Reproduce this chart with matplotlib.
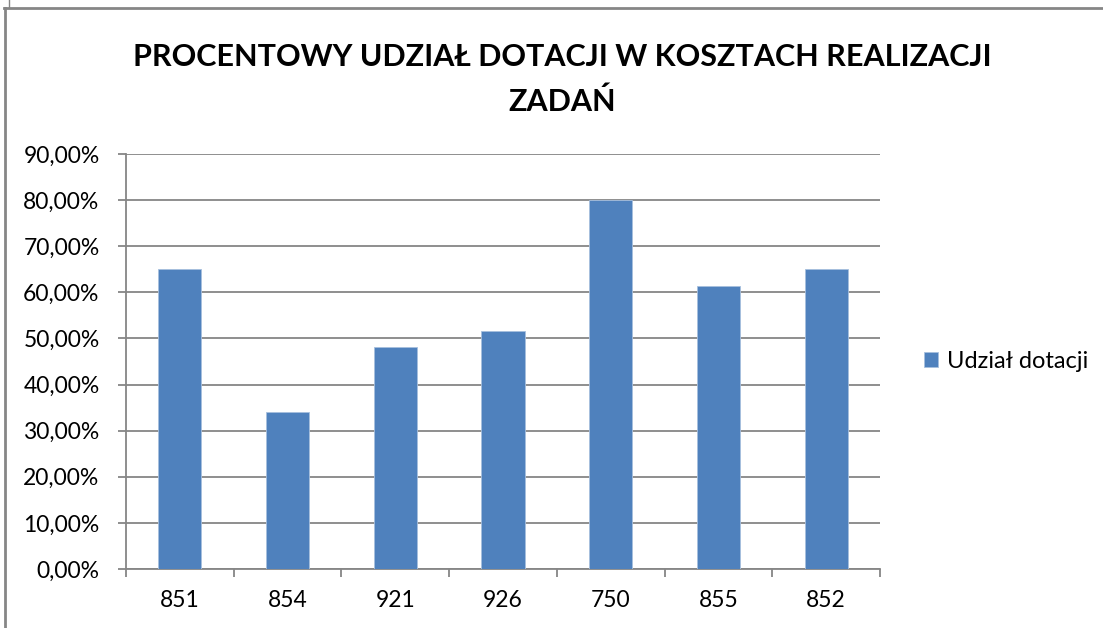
import numpy as np
import matplotlib.pyplot as plt
from matplotlib.lines import Line2D
from matplotlib.ticker import FuncFormatter

# dane
kategorie = ['851', '854', '921', '926', '750', '855', '852']
udzial = [65.1, 34.1, 48.2, 51.6, 80.1, 61.3, 65.0]
y_ticks = [0, 10, 20, 30, 40, 50, 60, 70, 80, 90]

kolor = '#4F81BD'
szary = '#868686'

plt.rcParams['font.family'] = ['Lato', 'DejaVu Sans']

fig = plt.figure(figsize=(11.03, 6.28), dpi=100)
ax = fig.add_axes([126 / 1103, 1 - 569 / 628, 754 / 1103, 415 / 628])

x = np.arange(len(kategorie))
ax.bar(x, udzial, width=0.4, color=kolor, edgecolor='#A7C0DE', linewidth=0.6,
       label='Udział dotacji', zorder=3)

ax.set_xlim(-0.5, len(kategorie) - 0.5)
ax.set_ylim(0, 90)
ax.set_yticks(y_ticks)
ax.yaxis.set_major_formatter(FuncFormatter(lambda v, p: f'{v:.2f}%'.replace('.', ',')))
ax.set_xticks(x)
ax.set_xticklabels(kategorie)
ax.set_xticks(np.arange(len(kategorie) + 1) - 0.5, minor=True)

ax.grid(axis='y', color=szary, linewidth=1.3, zorder=0)
for s in ['top', 'right']:
    ax.spines[s].set_visible(False)
for s in ['left', 'bottom']:
    ax.spines[s].set_color(szary)
    ax.spines[s].set_linewidth(1.3)

ax.tick_params(axis='y', length=6, color=szary, width=1.3, labelsize=16.5, pad=13)
ax.tick_params(axis='x', which='major', length=0, labelsize=16.5, pad=15)
ax.tick_params(axis='x', which='minor', length=6, color=szary, width=1.3)

fig.text(0.51, 0.91, 'PROCENTOWY UDZIAŁ DOTACJI W KOSZTACH REALIZACJI', ha='center',
         va='center', fontsize=22, fontweight='bold')
fig.text(0.51, 0.838, 'ZADAŃ', ha='center', va='center', fontsize=22, fontweight='bold')

ax.legend(loc='center left', bbox_to_anchor=(1.03, 0.5), frameon=False, fontsize=17,
          handlelength=0.6, handleheight=0.6, handletextpad=0.4)

# ramka wykresu
fig.add_artist(Line2D([4.5 / 1103, 4.5 / 1103], [0, 1 - 8 / 628], color=szary, lw=2,
                      transform=fig.transFigure))
fig.add_artist(Line2D([4 / 1103, 1], [1 - 8 / 628, 1 - 8 / 628], color=szary, lw=2,
                      transform=fig.transFigure))
fig.add_artist(Line2D([9 / 1103, 9 / 1103], [1 - 7 / 628, 1], color=szary, lw=1,
                      transform=fig.transFigure))

plt.savefig('out.png', dpi=100)
